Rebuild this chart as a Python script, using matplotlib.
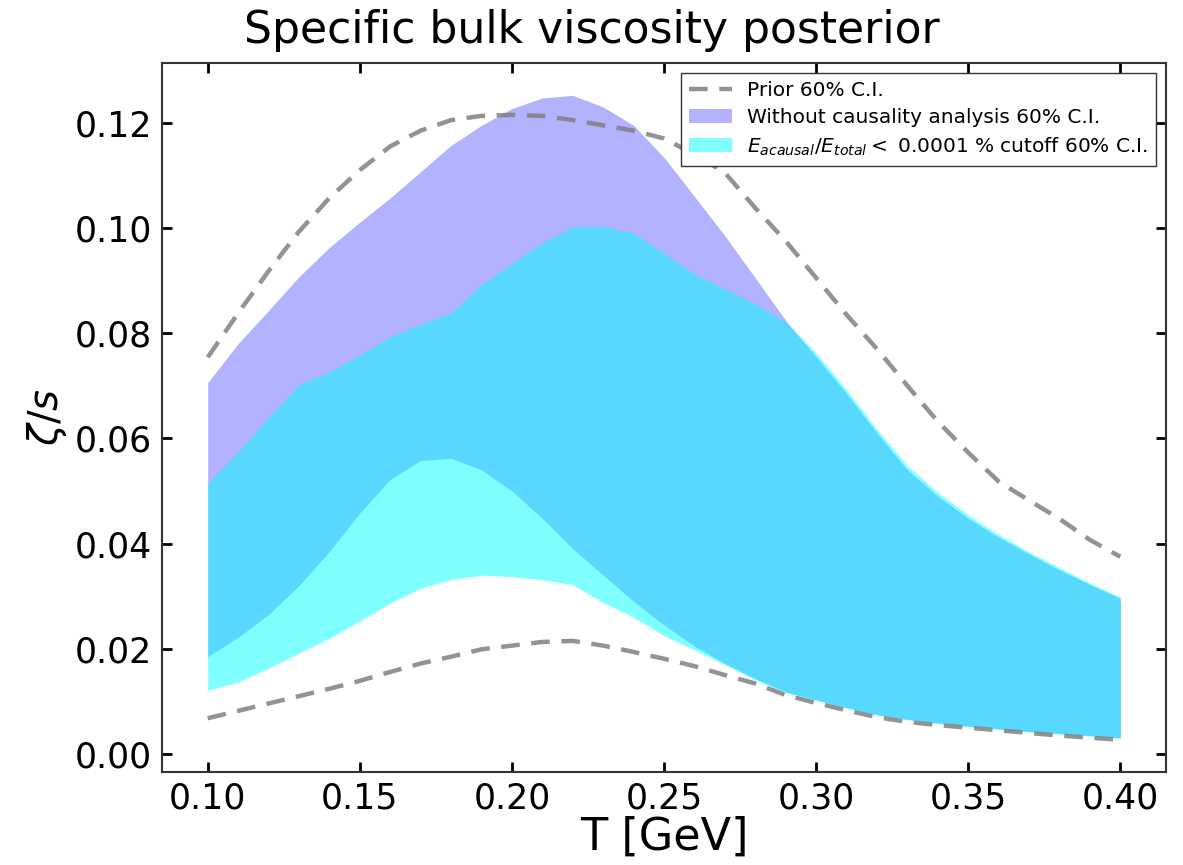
import matplotlib
matplotlib.use("Agg")
import matplotlib.pyplot as plt
import numpy as np

# temperature grid [GeV]
T = np.round(np.arange(0.10, 0.4001, 0.01), 2)

# prior 60% C.I.
prior_hi = [0.0754, 0.0838, 0.0918, 0.0993, 0.1057, 0.1110, 0.1155, 0.1185,
            0.1205, 0.1213, 0.1215, 0.1213, 0.1205, 0.1195, 0.1185, 0.1170,
            0.1140, 0.1105, 0.1038, 0.0975, 0.0905, 0.0835, 0.0770, 0.0700,
            0.0632, 0.0573, 0.0518, 0.0482, 0.0447, 0.0407, 0.0375]
prior_lo = [0.0068, 0.0082, 0.0096, 0.0110, 0.0124, 0.0139, 0.0156, 0.0172,
            0.0185, 0.0199, 0.0206, 0.0213, 0.0215, 0.0206, 0.0194, 0.0181,
            0.0167, 0.0150, 0.0134, 0.0112, 0.0097, 0.0083, 0.0070, 0.0061,
            0.0055, 0.0050, 0.0045, 0.0040, 0.0035, 0.0031, 0.0027]

# without causality analysis 60% C.I.
nocaus_hi = [0.0706, 0.0780, 0.0843, 0.0907, 0.0963, 0.1011, 0.1057, 0.1107,
             0.1157, 0.1195, 0.1227, 0.1247, 0.1252, 0.1230, 0.1195, 0.1134,
             0.1060, 0.0985, 0.0905, 0.0824, 0.0755, 0.0685, 0.0610, 0.0540,
             0.0490, 0.0448, 0.0412, 0.0380, 0.0350, 0.0322, 0.0296]
nocaus_lo = [0.0185, 0.0222, 0.0265, 0.0320, 0.0385, 0.0458, 0.0522, 0.0558,
             0.0562, 0.0540, 0.0500, 0.0448, 0.0390, 0.0340, 0.0290, 0.0245,
             0.0205, 0.0172, 0.0143, 0.0118, 0.0103, 0.0088, 0.0075, 0.0066,
             0.0059, 0.0053, 0.0048, 0.0043, 0.0039, 0.0035, 0.0031]

# E_acausal/E_total < 0.0001 % cutoff 60% C.I.
cut_hi = [0.0515, 0.0574, 0.0640, 0.0702, 0.0726, 0.0758, 0.0793, 0.0817,
          0.0838, 0.0892, 0.0932, 0.0972, 0.1002, 0.1003, 0.0990, 0.0952,
          0.0912, 0.0884, 0.0855, 0.0821, 0.0762, 0.0692, 0.0617, 0.0548,
          0.0497, 0.0454, 0.0417, 0.0384, 0.0354, 0.0325, 0.0298]
cut_lo = [0.0121, 0.0137, 0.0163, 0.0192, 0.0220, 0.0253, 0.0287, 0.0315,
          0.0332, 0.0340, 0.0337, 0.0331, 0.0322, 0.0288, 0.0260, 0.0225,
          0.0198, 0.0170, 0.0141, 0.0117, 0.0102, 0.0087, 0.0074, 0.0065,
          0.0058, 0.0052, 0.0047, 0.0042, 0.0038, 0.0034, 0.0030]

fig = plt.figure(figsize=(11.83, 8.65), dpi=100)
ax = fig.add_axes([0.137, 0.1075, 0.8486, 0.8195])

ax.fill_between(T, nocaus_lo, nocaus_hi, color='blue', alpha=0.3, lw=0,
                label='Without causality analysis 60% C.I.')
ax.fill_between(T, cut_lo, cut_hi, color='cyan', alpha=0.5, lw=0,
                label=r'$E_{acausal}/E_{total} <$ 0.0001 % cutoff 60% C.I.')
ax.plot(T, prior_hi, color='gray', ls='--', lw=3.2, alpha=0.85,
        dashes=(4.2, 2.6), label='Prior 60% C.I.')
ax.plot(T, prior_lo, color='gray', ls='--', lw=3.2, alpha=0.85,
        dashes=(4.2, 2.6))

ax.set_xticks([0.10, 0.15, 0.20, 0.25, 0.30, 0.35, 0.40])
ax.set_yticks([0.00, 0.02, 0.04, 0.06, 0.08, 0.10, 0.12])
ax.xaxis.set_major_formatter(plt.FormatStrFormatter('%.2f'))
ax.yaxis.set_major_formatter(plt.FormatStrFormatter('%.2f'))
ax.tick_params(direction='in', top=True, right=True, length=7, width=2,
               labelsize=25, pad=7)
for s in ax.spines.values():
    s.set_linewidth(1.5)
    s.set_color('#333333')

ax.set_xlabel('T [GeV]', fontsize=32, labelpad=0)
ax.set_ylabel(r'$\zeta/s$', fontsize=29, labelpad=4)
fig.suptitle('Specific bulk viscosity posterior', fontsize=31.8, x=0.5, y=0.965,
             va='center')

h, l = ax.get_legend_handles_labels()
order = [2, 0, 1]
leg = ax.legend([h[i] for i in order], [l[i] for i in order], loc='upper right',
                fontsize=14.5, fancybox=False, framealpha=1, edgecolor='#333333',
                borderaxespad=0.5, handlelength=2.1, handletextpad=0.75,
                labelspacing=0.4, borderpad=0.4)

fig.savefig('out.png', dpi=100)
